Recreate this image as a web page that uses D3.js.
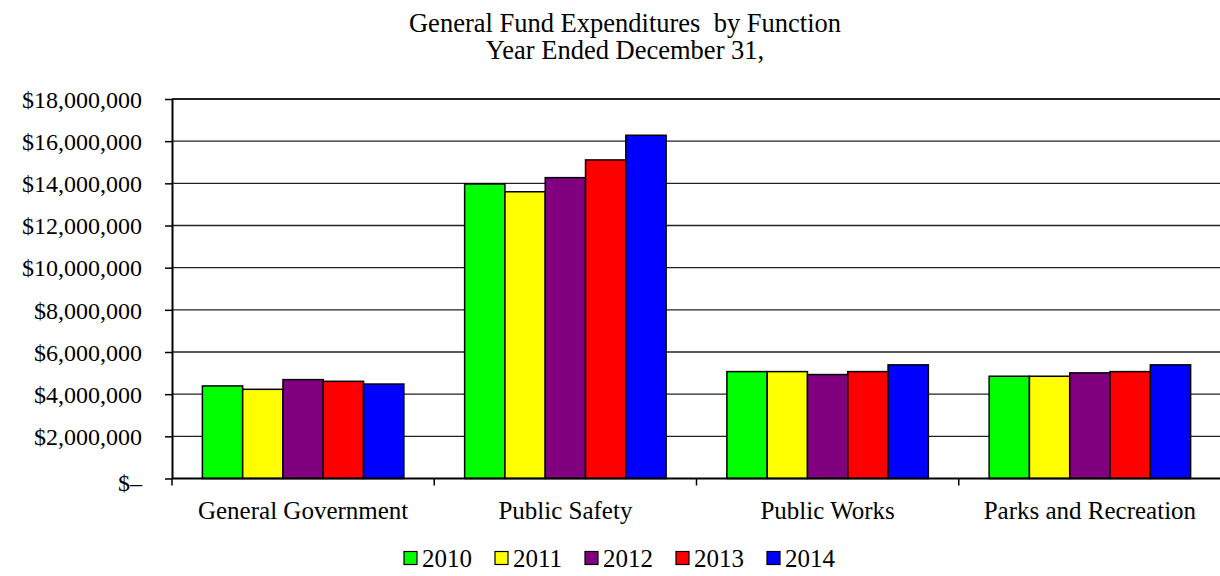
<!DOCTYPE html>
<html>
<head>
<meta charset="utf-8">
<script src="https://cdn.jsdelivr.net/npm/d3@7"></script>
<style>
  body { margin: 0; background: #fff; }
  #chart { display: block; }
  #chart text { font-family: "Liberation Serif", "Times New Roman", Times, serif !important; }
</style>
</head>
<body>
<svg id="chart" width="1220" height="576" font-family="Liberation Serif"></svg>
<script>
// ---- data ----
const categories = ["General Government", "Public Safety", "Public Works", "Parks and Recreation"];
const years = ["2010", "2011", "2012", "2013", "2014"];
const colors = ["#00FF00", "#FFFF00", "#800080", "#FF0000", "#0000FF"];
const values2010 = [4390000, 13970000, 5070000, 4850000];
const values2011 = [4230000, 13600000, 5070000, 4850000];
const values2012 = [4690000, 14270000, 4930000, 5010000];
const values2013 = [4610000, 15110000, 5070000, 5070000];
const values2014 = [4480000, 16280000, 5390000, 5390000];
const yTickValues = [0, 2000000, 4000000, 6000000, 8000000, 10000000, 12000000, 14000000, 16000000, 18000000];
const yTickLabels = ["$\u2013", "$2,000,000", "$4,000,000", "$6,000,000", "$8,000,000", "$10,000,000", "$12,000,000", "$14,000,000", "$16,000,000", "$18,000,000"];
const titleLines = ["General Fund Expenditures  by Function", "Year Ended December 31,"];

const series = [values2010, values2011, values2012, values2013, values2014];

(function () {
const svg = d3.select("#chart");
const mLeft = 172, mRight = 1221, mTop = 99, mBottom = 478.5;

const x = d3.scaleBand().domain(categories).range([mLeft, mRight]).paddingInner(0).paddingOuter(0);
const x1 = d3.scaleBand().domain(years).range([0, x.bandwidth()]).paddingInner(0).paddingOuter(0.754);
const y = d3.scaleLinear().domain([0, 18000000]).range([mBottom, mTop]);

// gridlines
svg.append("g").selectAll("line")
  .data(yTickValues.filter(v => v > 0))
  .join("line")
  .attr("x1", mLeft).attr("x2", 1220)
  .attr("y1", d => y(d)).attr("y2", d => y(d))
  .attr("stroke", "#222").attr("stroke-width", d => d === 18000000 ? 2 : 1.4);

// bars
const rows = [];
categories.forEach((c, ci) => {
  years.forEach((yr, yi) => rows.push({ cat: c, year: yr, value: series[yi][ci], color: colors[yi] }));
});
svg.append("g").selectAll("rect")
  .data(rows)
  .join("rect")
  .attr("x", d => x(d.cat) + x1(d.year))
  .attr("y", d => y(d.value))
  .attr("width", x1.bandwidth())
  .attr("height", d => y(0) - y(d.value))
  .attr("fill", d => d.color)
  .attr("stroke", "#000")
  .attr("stroke-width", 1.5);

// y axis
const yAxis = svg.append("g")
  .attr("transform", `translate(${mLeft},0)`)
  .call(d3.axisLeft(y).tickValues(yTickValues).tickSize(7).tickSizeOuter(0).tickPadding(23)
    .tickFormat((d, i) => yTickLabels[i]));
yAxis.attr("font-family", "Liberation Serif").attr("font-size", 24);
yAxis.select(".domain").attr("stroke", "#000").attr("stroke-width", 2);
yAxis.selectAll(".tick line").attr("stroke", "#000").attr("stroke-width", 1.5);
yAxis.selectAll(".tick text")
  .attr("font-size", 24).attr("fill", "#000")
  .attr("dy", (d) => d === 0 ? "0.48em" : "0.34em");

// x axis
const xAxis = svg.append("g")
  .attr("transform", `translate(0,${mBottom})`)
  .call(d3.axisBottom(x).tickSize(0).tickSizeOuter(0));
xAxis.attr("font-family", "Liberation Serif").attr("font-size", 25);
xAxis.select(".domain").attr("stroke", "#000").attr("stroke-width", 2.2)
  .attr("d", `M${mLeft},0H1220`);
xAxis.selectAll(".tick text")
  .attr("font-size", 25).attr("fill", "#000")
  .attr("y", 32).attr("dy", "0.35em");
// boundary ticks
svg.append("g").selectAll("line")
  .data(categories)
  .join("line")
  .attr("x1", d => x(d)).attr("x2", d => x(d))
  .attr("y1", mBottom).attr("y2", mBottom + 7)
  .attr("stroke", "#000").attr("stroke-width", 1.5);

// title
svg.append("g").selectAll("text")
  .data(titleLines)
  .join("text")
  .attr("x", 625)
  .attr("y", (d, i) => 23 + i * 27)
  .attr("dy", "0.35em")
  .attr("text-anchor", "middle")
  .attr("font-size", 26.5)
  .attr("fill", "#000")
  .attr("xml:space", "preserve")
  .text(d => d);

// legend
const legend = svg.append("g");
const itemX = [404, 495, 585, 676, 767];
const legY = 558;
const items = legend.selectAll("g")
  .data(years)
  .join("g")
  .attr("transform", (d, i) => `translate(${itemX[i]},${legY})`);
items.append("rect")
  .attr("x", 0).attr("y", -6.5).attr("width", 13).attr("height", 13)
  .attr("fill", (d, i) => colors[i]).attr("stroke", "#000").attr("stroke-width", 1.2);
items.append("text")
  .attr("x", 18).attr("y", 0).attr("dy", "0.35em")
  .attr("font-size", 25).attr("fill", "#000")
  .text(d => d);
})();
</script>
</body>
</html>
